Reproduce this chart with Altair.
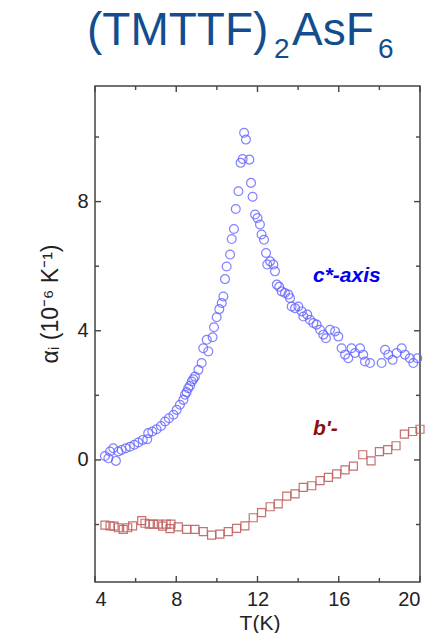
import altair as alt
import pandas as pd

# c*-axis data (open circles)
c_T = [4.49, 4.66, 4.74, 4.90, 5.03, 5.15, 5.31, 5.51, 5.72, 5.93, 6.13, 6.35, 6.57, 6.62,
       6.82, 7.03, 7.25, 7.45, 7.64, 7.86, 8.02, 8.18, 8.35, 8.43, 8.51, 8.59, 8.68, 8.76,
       8.84, 8.92, 9.09, 9.25, 9.33, 9.50, 9.58, 9.79, 9.86, 9.99, 10.12, 10.24, 10.32,
       10.40, 10.48, 10.65, 10.73, 10.84, 10.93, 11.06, 11.17, 11.27, 11.34, 11.43, 11.60,
       11.68, 11.76, 11.88, 12.00, 12.12, 12.20, 12.32, 12.42, 12.48, 12.62, 12.78, 12.86,
       12.95, 13.07, 13.19, 13.35, 13.52, 13.60, 13.68, 13.85, 14.01, 14.18, 14.26, 14.45,
       14.58, 14.75, 14.91, 15.08, 15.24, 15.37, 15.57, 15.82, 15.98, 16.14, 16.31, 16.47,
       16.63, 16.80, 17.05, 17.20, 17.29, 17.54, 18.11, 18.28, 18.44, 18.65, 18.85, 19.10,
       19.26, 19.50, 19.67, 19.87]
c_alpha = [0.12, 0.05, 0.26, 0.36, -0.03, 0.26, 0.31, 0.36, 0.41, 0.47, 0.54, 0.62, 0.64, 0.83,
           0.88, 0.95, 1.05, 1.19, 1.29, 1.40, 1.55, 1.71, 1.86, 2.02, 2.10, 2.22, 2.30, 2.43,
           2.50, 2.58, 2.79, 3.00, 3.46, 3.72, 3.36, 3.80, 4.11, 4.42, 4.67, 4.86, 5.06,
           5.60, 5.99, 6.36, 6.84, 7.15, 7.77, 8.32, 9.20, 9.32, 10.13, 9.92, 9.30,
           8.58, 8.15, 7.60, 7.49, 7.29, 6.98, 6.82, 6.41, 6.05, 6.15, 6.05, 5.84,
           5.43, 5.36, 5.22, 5.17, 5.12, 5.01, 4.75, 4.70, 4.75, 4.60, 4.44, 4.50,
           4.34, 4.24, 4.19, 4.03, 3.88, 3.77, 4.03, 3.98, 3.82, 3.46, 3.26, 3.15,
           3.46, 3.31, 3.46, 3.26, 3.05, 3.00, 3.00, 3.41, 3.26, 3.10, 3.31, 3.46,
           3.26, 3.15, 3.00, 3.15]

# b'-axis data (open squares)
b_T = [4.49, 4.74, 4.94, 5.15, 5.39, 5.61, 5.85, 6.30, 6.46, 6.67, 6.87, 7.12, 7.33, 7.50,
       7.69, 7.74, 8.10, 8.51, 8.92, 9.33, 9.74, 10.15, 10.56, 10.97, 11.38, 11.79, 12.20,
       12.62, 13.02, 13.44, 13.85, 14.25, 14.67, 15.08, 15.49, 15.90, 16.31, 16.72, 17.18,
       17.59, 18.00, 18.41, 18.82, 19.23, 19.64, 20.00]
b_alpha = [-2.02, -2.04, -2.05, -2.10, -2.15, -2.10, -2.04, -1.88, -1.96, -1.99, -1.99, -1.99,
           -2.05, -1.99, -2.13, -1.99, -2.07, -2.15, -2.15, -2.22, -2.33, -2.30, -2.22, -2.12,
           -2.04, -1.79, -1.63, -1.45, -1.36, -1.12, -1.05, -0.85, -0.80, -0.64, -0.54, -0.43,
           -0.31, -0.19, 0.16, -0.03, 0.26, 0.32, 0.44, 0.80, 0.88, 0.95]

x_major = [4, 8, 12, 16, 20]
x_minor = [6, 10, 14, 18]
y_major = [0, 4, 8]
y_minor = [-2, 2, 6, 10]

W, H = 325, 496
FONT = "Liberation Sans"
AX = "#444444"

xs = alt.Scale(domain=[4, 20], nice=False, zero=False)
ys = alt.Scale(domain=[-3.78, 11.58], nice=False, zero=False)

c_df = pd.DataFrame({"T": c_T, "a": c_alpha})
b_df = pd.DataFrame({"T": b_T, "a": b_alpha})

x_axis = alt.Axis(values=x_major, ticks=False, domain=False, grid=False, title=None,
                  labelFont=FONT, labelFontSize=20, labelColor="#222222", labelPadding=7)
y_axis = alt.Axis(values=y_major, ticks=False, domain=False, grid=False, title=None,
                  labelFont=FONT, labelFontSize=20, labelColor="#222222", labelPadding=7)

circles = alt.Chart(c_df).mark_point(shape="circle", filled=False, size=78, strokeWidth=1.2,
                                     color="#6464ff", opacity=0.8).encode(
    x=alt.X("T:Q", scale=xs, axis=x_axis),
    y=alt.Y("a:Q", scale=ys, axis=y_axis),
)
squares = alt.Chart(b_df).mark_point(shape="square", filled=False, size=64, strokeWidth=1.2,
                                     color="#c06262", opacity=0.9).encode(
    x=alt.X("T:Q", scale=xs, axis=x_axis),
    y=alt.Y("a:Q", scale=ys, axis=y_axis),
)

def xticks(vals, ln):
    d = pd.DataFrame({"t": vals})
    bot = alt.Chart(d).mark_rule(color=AX, strokeWidth=1.4).encode(
        x=alt.X("t:Q", scale=xs, axis=x_axis), y=alt.value(H), y2=alt.value(H - ln))
    top = alt.Chart(d).mark_rule(color=AX, strokeWidth=1.4).encode(
        x=alt.X("t:Q", scale=xs, axis=x_axis), y=alt.value(0), y2=alt.value(ln))
    return [bot, top]

def yticks(vals, ln):
    d = pd.DataFrame({"v": vals})
    lft = alt.Chart(d).mark_rule(color=AX, strokeWidth=1.4).encode(
        y=alt.Y("v:Q", scale=ys, axis=y_axis), x=alt.value(0), x2=alt.value(ln))
    rgt = alt.Chart(d).mark_rule(color=AX, strokeWidth=1.4).encode(
        y=alt.Y("v:Q", scale=ys, axis=y_axis), x=alt.value(W), x2=alt.value(W - ln))
    return [lft, rgt]

one = pd.DataFrame({"k": [0]})

def label(text, x, y, size, color, **kw):
    return alt.Chart(one).mark_text(text=text, font=FONT, fontSize=size, color=color,
                                    align=kw.pop("align", "left"), baseline="alphabetic",
                                    **kw).encode(x=alt.value(x), y=alt.value(y))

series_labels = [
    alt.Chart(pd.DataFrame({"T": [14.73], "a": [5.52], "s": ["c*-axis"]})).mark_text(
        font=FONT, fontSize=21, fontWeight="bold", fontStyle="italic", color="#0000ee",
        align="left", baseline="alphabetic").encode(
        x=alt.X("T:Q", scale=xs, axis=x_axis), y=alt.Y("a:Q", scale=ys, axis=y_axis), text="s:N"),
    alt.Chart(pd.DataFrame({"T": [14.73], "a": [0.77], "s": ["b'-"]})).mark_text(
        font=FONT, fontSize=21, fontWeight="bold", fontStyle="italic", color="#8b0f0f",
        align="left", baseline="alphabetic").encode(
        x=alt.X("T:Q", scale=xs, axis=x_axis), y=alt.Y("a:Q", scale=ys, axis=y_axis), text="s:N"),
]

TC = "#124e8f"
titles = [
    label("(TMTTF)", -8, -41, 46, TC),
    label("2", 179, -28, 28, TC),
    label("AsF", 197, -41, 46, TC),
    label("6", 283, -28, 28, TC),
    label("T(K)", 165, 544, 21, "#222222", align="center"),
    label("αᵢ (10⁻⁶ K⁻¹)", -37, 218, 23, "#222222", align="center", angle=270),
]

layers = [circles, squares] + xticks(x_major, 6) + xticks(x_minor, 4) + \
    yticks(y_major, 6) + yticks(y_minor, 4) + series_labels + titles

chart = alt.layer(*layers).properties(
    width=W, height=H,
    autosize=alt.AutoSizeParams(type="none"),
    padding={"left": 95, "top": 86, "right": 23, "bottom": 51},
    background="white",
).configure_view(stroke=AX, strokeWidth=1.5)

chart.save("out.html", embed_options={"renderer": "svg", "actions": False})
